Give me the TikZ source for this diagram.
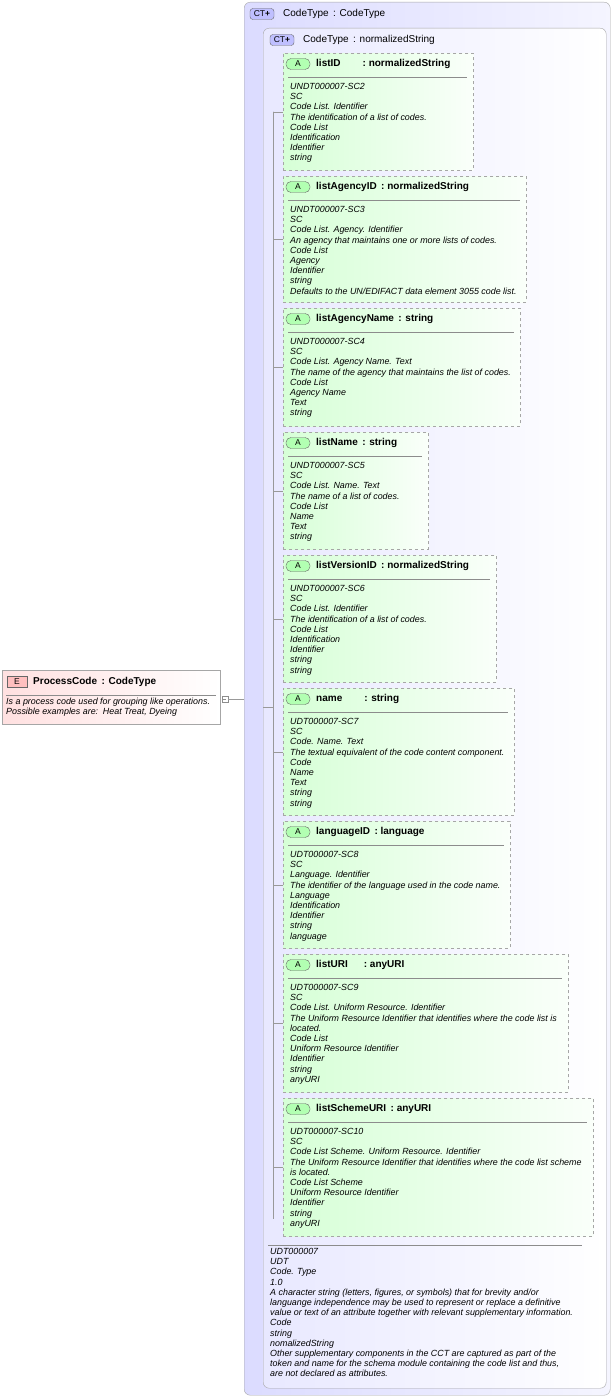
\documentclass[tikz,border=0pt]{standalone}
\usepackage{fontspec}
\setmainfont{Liberation Sans}
\usetikzlibrary{positioning}
\tikzset{
  ctbox/.style={draw=black!35, rounded corners=6pt, left color=blue!14, right color=blue!4, anchor=north west, inner sep=0pt},
  abox/.style={draw=black!35, dashed, thick, left color=green!16, right color=green!2, anchor=north west, inner sep=0pt},
  badge/.style={draw=black!60, rounded corners=3pt, font=\fontsize{8.5}{8.5}\selectfont, inner sep=1pt, minimum width=24pt, minimum height=11pt},
  title/.style={font=\fontsize{10}{10}\selectfont\bfseries, anchor=west, inner sep=0pt},
  doc/.style={font=\fontsize{8.9}{10.2}\selectfont\itshape, anchor=north west, inner sep=0pt, align=left},
  link/.style={draw=black!40, line width=0.5pt}
}
\newcommand{\attr}[6]{%
  \node (#1) [abox, minimum width=#3-283pt, minimum height=#4pt] at (283,#2) {};
  \node (#1_badge) [badge, fill=green!30, rounded corners=5pt] at (298,#2+11) {A};
  \node (#1_title) [title] at (316,#2+11) {#5};
  \draw[black!45] (288,#2+24) -- (#3-6,#2+24);
  \node (#1_doc) [doc] at (290,#2+30) {#6};
  \draw[link] (tree) |- (#1.west);
}
\begin{document}
\begin{tikzpicture}[x=1pt,y=-1pt]
  \useasboundingbox (0,0) rectangle (613,1399);

  %% Containers
  \node (outer) [ctbox, minimum width=366pt, minimum height=1393pt] at (244,2) {};
  \node (outer_badge) [badge, fill=blue!25] at (262,14) {CT\textbf{+}};
  \node (outer_title) [title, font=\fontsize{10}{10}\selectfont] at (283,14) {CodeType\, : CodeType};

  \node (inner) [ctbox, minimum width=343pt, minimum height=1360pt, left color=blue!9, right color=white] at (263,28) {};
  \node (inner_badge) [badge, fill=blue!25] at (282,40) {CT\textbf{+}};
  \node (inner_title) [title, font=\fontsize{10}{10}\selectfont] at (303,40) {CodeType\, : normalizedString};

  \coordinate (tree) at (273,112);
  \draw[link] (273,112) -- (273,1219);

  % Attributes
  \attr{listid}{53}{473}{117}{listID\hspace{2.2em}: normalizedString}{UNDT000007-SC2\\SC\\Code List. Identifier\\The identification of a list of codes.\\Code List\\Identification\\Identifier\\string}
  \attr{agencyid}{176}{526}{126}{listAgencyID\, : normalizedString}{UNDT000007-SC3\\SC\\Code List. Agency. Identifier\\An agency that maintains one or more lists of codes.\\Code List\\Agency\\Identifier\\string\\Defaults to the UN/EDIFACT data element 3055 code list.}
  \attr{agencyname}{308}{520}{118}{listAgencyName\, : string}{UNDT000007-SC4\\SC\\Code List. Agency Name. Text\\The name of the agency that maintains the list of codes.\\Code List\\Agency Name\\Text\\string}
  \attr{listname}{432}{428}{117}{listName\, : string}{UNDT000007-SC5\\SC\\Code List. Name. Text\\The name of a list of codes.\\Code List\\Name\\Text\\string}
  \attr{versionid}{555}{496}{127}{listVersionID\, : normalizedString}{UNDT000007-SC6\\SC\\Code List. Identifier\\The identification of a list of codes.\\Code List\\Identification\\Identifier\\string\\string}
  \attr{name}{688}{514}{127}{name\hspace{2.2em}: string}{UDT000007-SC7\\SC\\Code. Name. Text\\The textual equivalent of the code content component.\\Code\\Name\\Text\\string\\string}
  \attr{languageid}{821}{510}{127}{languageID\, : language}{UDT000007-SC8\\SC\\Language. Identifier\\The identifier of the language used in the code name.\\Language\\Identification\\Identifier\\string\\language}
  \attr{listuri}{954}{568}{138}{listURI\hspace{1.6em}: anyURI}{UDT000007-SC9\\SC\\Code List. Uniform Resource. Identifier\\The Uniform Resource Identifier that identifies where the code list is\\located.\\Code List\\Uniform Resource Identifier\\Identifier\\string\\anyURI}
  \attr{schemeuri}{1098}{593}{138}{listSchemeURI\, : anyURI}{UDT000007-SC10\\SC\\Code List Scheme. Uniform Resource. Identifier\\The Uniform Resource Identifier that identifies where the code list scheme\\is located.\\Code List Scheme\\Uniform Resource Identifier\\Identifier\\string\\anyURI}

  % Type documentation
  \draw[black!45] (268,1245) -- (582,1245);
  \node (ct_doc) [doc] at (270,1248) {UDT000007\\UDT\\Code. Type\\1.0\\A character string (letters, figures, or symbols) that for brevity and/or\\languange independence may be used to represent or replace a definitive\\value or text of an attribute together with relevant supplementary information.\\Code\\string\\nomalizedString\\Other supplementary components in the CCT are captured as part of the\\token and name for the schema module containing the code list and thus,\\are not declared as attributes.};

  % Element
  \node (elem) [draw=black!35, left color=red!12, right color=white, anchor=north west, minimum width=218pt, minimum height=54pt] at (2,670) {};
  \node (elem_badge) [badge, fill=red!25, rounded corners=0pt, minimum width=20pt] at (17,682) {E};
  \node (elem_title) [title] at (33,682) {ProcessCode\, : CodeType};
  \draw[black!45] (6,695) -- (216,695);
  \node (elem_doc) [doc] at (6,698) {Is a process code used for grouping like operations.\\Possible examples are:\, Heat Treat, Dyeing};
  \node (minus) [draw=black!45, fill=white, minimum size=6pt, inner sep=0pt] at (225,699) {};
  \draw[black!45] (minus.west) ++(1.5,0) -- ++(3,0);

  %% Edges
  \draw[link] (minus.east) -- (244,699);
  \draw[link] (263,707) -- (273,707);
\end{tikzpicture}
\end{document}
